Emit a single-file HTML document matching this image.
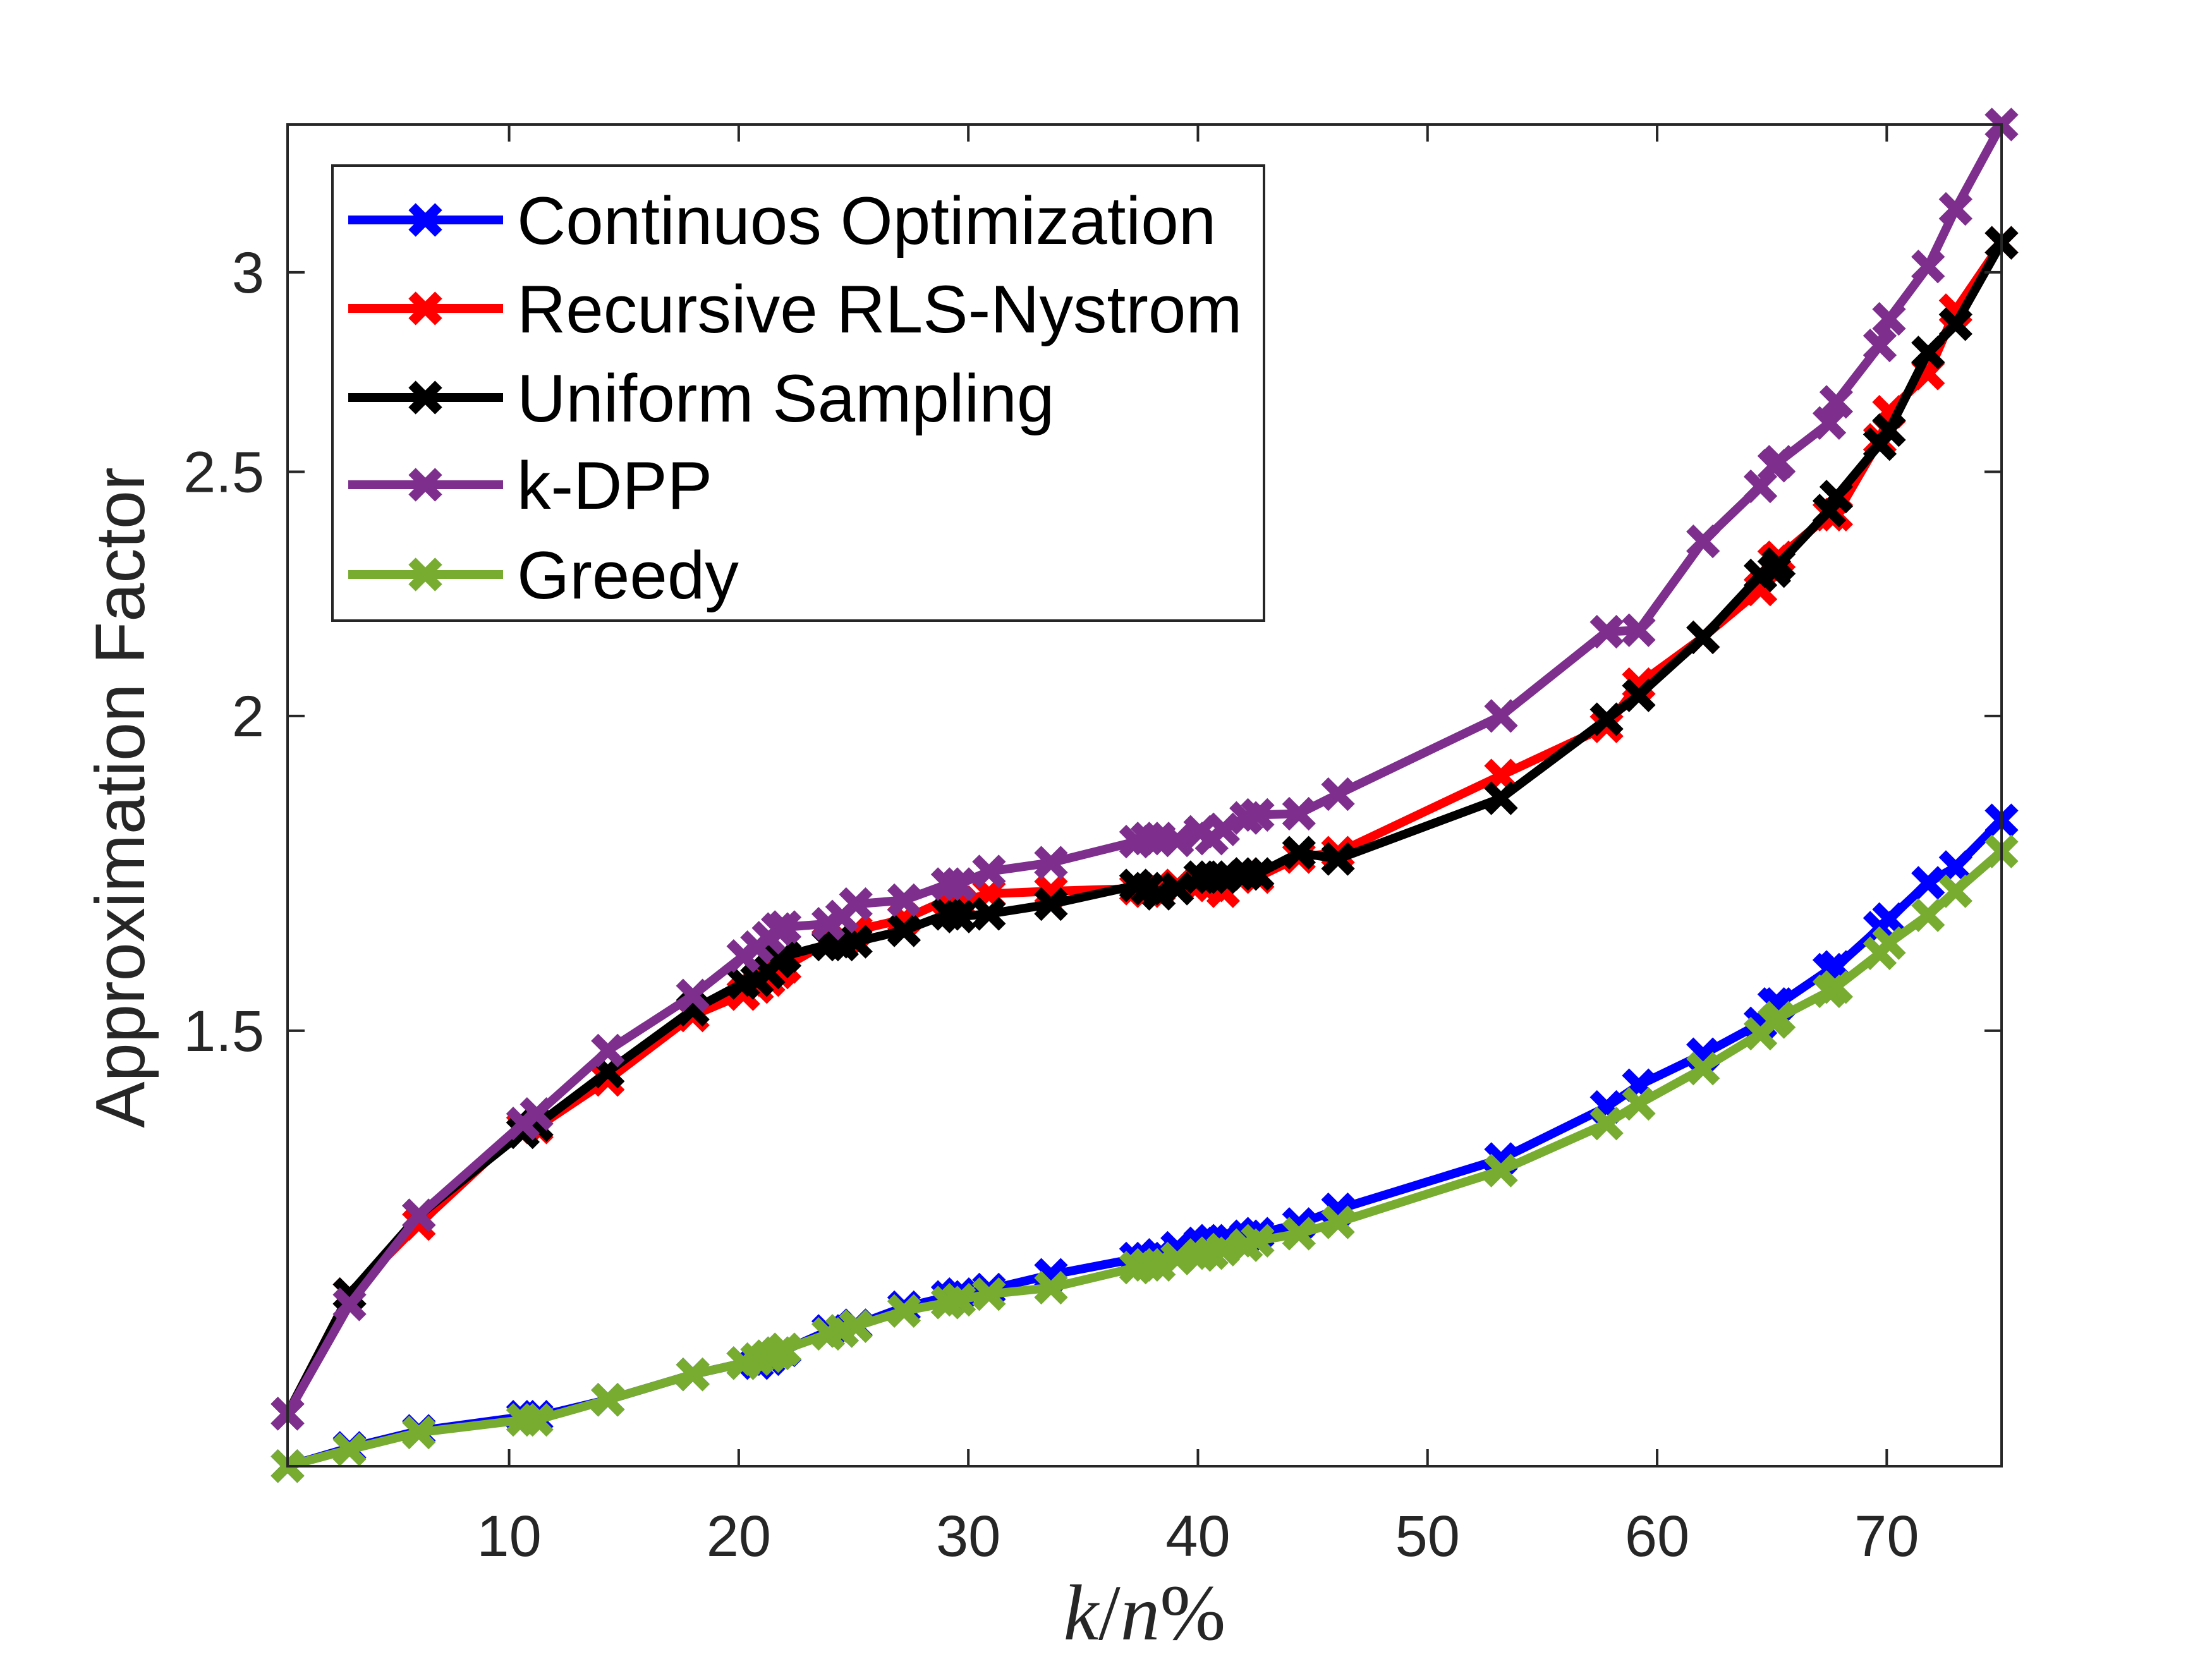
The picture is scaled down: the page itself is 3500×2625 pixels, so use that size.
<!DOCTYPE html>
<html><head><meta charset="utf-8"><style>
html,body{margin:0;padding:0;background:#fff;}
svg{display:block;}
</style></head><body>
<svg id="chart" xmlns="http://www.w3.org/2000/svg" width="3500" height="2625" viewBox="0 0 3500 2625">
<rect x="0" y="0" width="3500" height="2625" fill="#fff"/>
<g id="plot"></g>
<g id="axes"></g>
<text x="228" y="1262" transform="rotate(-90 228 1262)" text-anchor="middle" font-family="Liberation Sans, sans-serif" font-size="110" fill="#262626">Approximation Factor</text>
<text x="1811" y="2594" text-anchor="middle" font-family="Liberation Serif, serif" font-size="125" fill="#262626"><tspan font-style="italic">k</tspan>/<tspan font-style="italic">n</tspan>%</text>
<g id="legend"></g>
</svg>
<script>
const xValues = [0.35,3.05,6.07,10.6,11.2,14.3,18.0,20.2,20.8,21.3,21.7,22.0,23.9,24.5,25.1,27.2,29.1,29.6,30.9,33.6,37.3,37.8,38.3,39.1,40.1,40.6,41.1,42.1,42.6,44.4,46.1,53.2,57.8,59.2,62.0,64.5,65.1,65.3,67.5,67.8,69.7,70.1,71.8,73.0,75.0];
const continuousOpt = [1.0075,1.0245,1.0405,1.054,1.054,1.0705,1.0956,1.107,1.107,1.111,1.117,1.120,1.140,1.140,1.146,1.165,1.176,1.179,1.184,1.200,1.218,1.218,1.222,1.230,1.235,1.238,1.238,1.243,1.246,1.257,1.274,1.334,1.399,1.427,1.468,1.510,1.537,1.537,1.586,1.590,1.648,1.661,1.717,1.742,1.818];
const recursiveRLS = [1.057,1.179,1.257,1.373,1.373,1.434,1.521,1.551,1.561,1.571,1.582,1.590,1.627,1.627,1.644,1.661,1.691,1.687,1.700,1.704,1.708,1.704,1.708,1.713,1.717,1.713,1.704,1.731,1.726,1.758,1.765,1.894,1.981,2.059,2.149,2.245,2.304,2.312,2.404,2.404,2.574,2.641,2.735,2.898,3.082];
const uniformSampling = [1.057,1.179,1.267,1.367,1.376,1.445,1.529,1.567,1.571,1.582,1.598,1.606,1.623,1.623,1.627,1.644,1.669,1.665,1.669,1.684,1.713,1.708,1.700,1.708,1.726,1.726,1.726,1.731,1.731,1.765,1.755,1.855,1.994,2.038,2.149,2.274,2.283,2.298,2.413,2.444,2.564,2.597,2.788,2.861,3.082];
const kDPP = [1.057,1.168,1.267,1.378,1.390,1.473,1.549,1.606,1.619,1.633,1.646,1.649,1.654,1.665,1.684,1.690,1.715,1.715,1.735,1.749,1.783,1.788,1.788,1.785,1.799,1.788,1.803,1.822,1.827,1.829,1.862,2.0,2.160,2.163,2.346,2.467,2.514,2.523,2.614,2.665,2.806,2.875,3.016,3.179,3.434];
const greedy = [1.0075,1.023,1.039,1.051,1.051,1.0705,1.0956,1.107,1.111,1.114,1.117,1.121,1.137,1.140,1.145,1.161,1.170,1.173,1.179,1.186,1.208,1.211,1.211,1.218,1.222,1.224,1.228,1.233,1.238,1.246,1.259,1.320,1.378,1.403,1.449,1.496,1.512,1.518,1.555,1.561,1.610,1.625,1.667,1.704,1.767];
const seriesNames = ["Continuos Optimization","Recursive RLS-Nystrom","Uniform Sampling","k-DPP","Greedy"];
const xTicks = [10,20,30,40,50,60,70];
const yTicks = [1.5,2,2.5,3];
const yTickLabels = ["1.5","2","2.5","3"];
const xDomain = [0.35,75];
const yDomain = [1.0074,3.434];

const NS = "http://www.w3.org/2000/svg";
const L=455,R=3167,T=197,B=2320;
function sx(v){return L+(v-xDomain[0])/(xDomain[1]-xDomain[0])*(R-L);}
function sy(v){return B-(Math.log(v)-Math.log(yDomain[0]))/(Math.log(yDomain[1])-Math.log(yDomain[0]))*(B-T);}
function mk(tag,attrs,parent){const e=document.createElementNS(NS,tag);for(const k in attrs)e.setAttribute(k,attrs[k]);parent.appendChild(e);return e;}

const plot=document.getElementById('plot');
const axes=document.getElementById('axes');
const legend=document.getElementById('legend');
const series=[
 {vals:continuousOpt,color:'#0000ff',name:'series-continuous-optimization'},
 {vals:recursiveRLS,color:'#ff0000',name:'series-recursive-rls-nystrom'},
 {vals:uniformSampling,color:'#000000',name:'series-uniform-sampling'},
 {vals:kDPP,color:'#7e2f8e',name:'series-k-dpp'},
 {vals:greedy,color:'#77ac30',name:'series-greedy'}
];
const M=21;
function marker(cx,cy,color,parent){
  const p=mk('path',{d:`M${cx-M},${cy-M}L${cx+M},${cy+M}M${cx-M},${cy+M}L${cx+M},${cy-M}`,stroke:color,'stroke-width':16,fill:'none'},parent);
  
  
}
series.forEach(s=>{
  const g=mk('g',{},plot);
  
  
  const pts=xValues.map((x,i)=>sx(x).toFixed(1)+','+sy(s.vals[i]).toFixed(1)).join(' ');
  const line=mk('polyline',{points:pts,fill:'none',stroke:s.color,'stroke-width':14,'stroke-linejoin':'round'},g);
  
  
  xValues.forEach((x,i)=>marker(sx(x),sy(s.vals[i]),s.color,g));
});

const box=mk('rect',{x:L,y:T,width:R-L,height:B-T,fill:'none',stroke:'#262626','stroke-width':4},axes);


const TL=27;
xTicks.forEach(t=>{
  const x=sx(t);
  const a=mk('line',{x1:x,y1:B,x2:x,y2:B-TL,stroke:'#262626','stroke-width':4},axes);
  
  
  const b=mk('line',{x1:x,y1:T,x2:x,y2:T+TL,stroke:'#262626','stroke-width':4},axes);
  
  
  const tx=mk('text',{x:x,y:2462,'text-anchor':'middle','font-family':'Liberation Sans, sans-serif','font-size':92,fill:'#262626'},axes);
  
  
  tx.textContent=String(t);
});
yTicks.forEach((t,i)=>{
  const y=sy(t);
  const a=mk('line',{x1:L,y1:y,x2:L+TL,y2:y,stroke:'#262626','stroke-width':4},axes);
  
  
  const b=mk('line',{x1:R,y1:y,x2:R-TL,y2:y,stroke:'#262626','stroke-width':4},axes);
  
  
  const tx=mk('text',{x:418,y:y+32,'text-anchor':'end','font-family':'Liberation Sans, sans-serif','font-size':92,fill:'#262626'},axes);
  
  
  tx.textContent=yTickLabels[i];
});

const lb=mk('rect',{x:526,y:262,width:1474,height:720,fill:'#fff',stroke:'#262626','stroke-width':4},legend);


const ly=[348,488,629,767,909];
series.forEach((s,i)=>{
  const g=mk('g',{},legend);
  
  
  mk('line',{x1:551,y1:ly[i],x2:796,y2:ly[i],stroke:s.color,'stroke-width':14},g);
  marker(673,ly[i],s.color,g);
  const t=mk('text',{x:818,y:ly[i]+38,'font-family':'Liberation Sans, sans-serif','font-size':107,fill:'#000'},g);
  
  
  t.textContent=seriesNames[i];
});
</script>
</body></html>
